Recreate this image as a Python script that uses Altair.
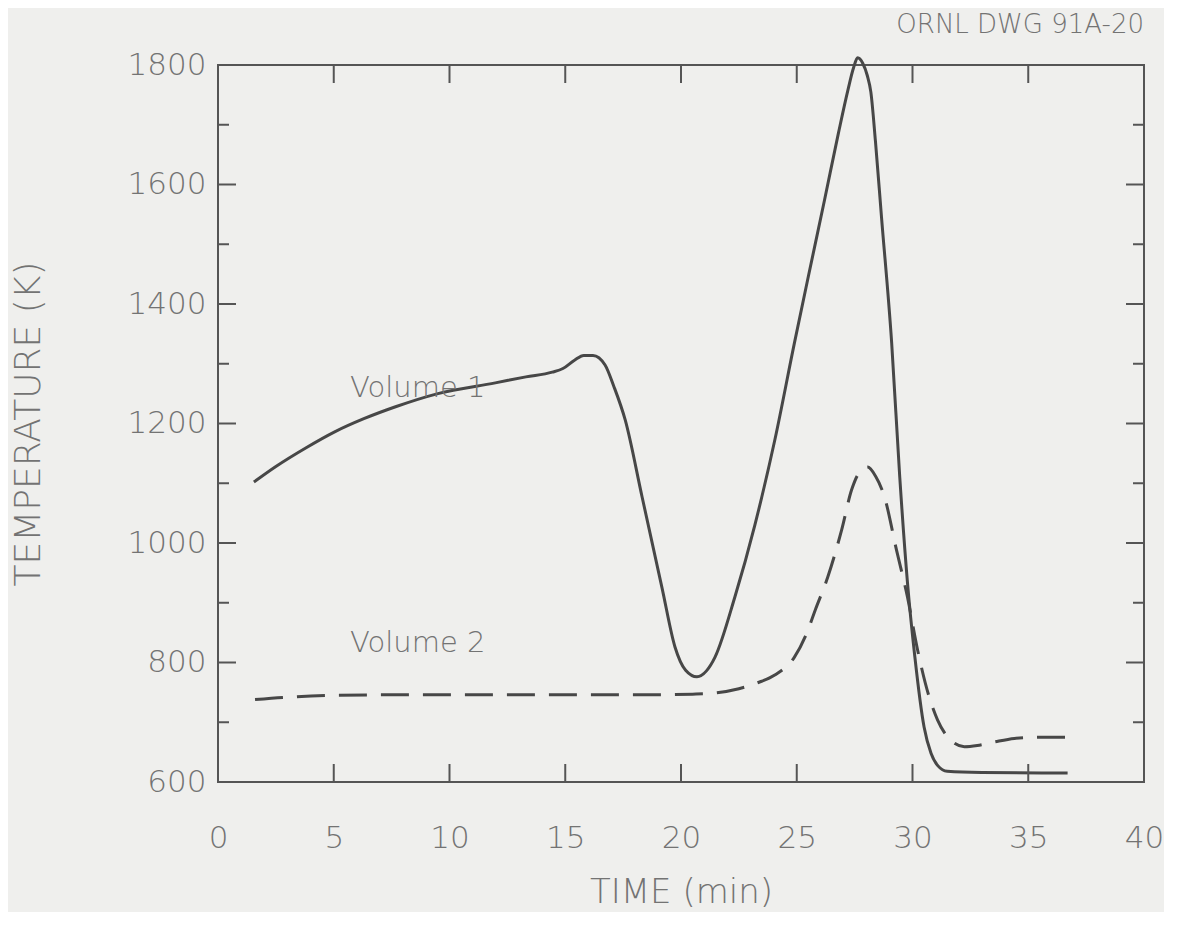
import altair as alt
import pandas as pd

# Volume 1 (solid) readings
v1_time = [1.55, 2.5, 3.79, 5.04, 6.3, 7.67, 9.5, 11.98, 13.3, 14.44, 14.9, 15.4, 15.8, 16.2,
           16.72, 17.1, 17.59, 18.32, 19.18, 19.74, 20.2, 20.69, 21.1, 21.47, 22.33, 23.19,
           24.05, 24.9, 25.5, 26.2, 26.8, 27.21, 27.45, 27.63, 27.85, 28.05, 28.2, 28.4, 28.66,
           29.1, 29.45, 29.78, 30.1, 30.5, 30.8, 31.1, 31.5, 33.0, 36.7]
v1_temp = [1102, 1128, 1159, 1186, 1208, 1228, 1250, 1268, 1278, 1286, 1292, 1306, 1314, 1314,
           1298, 1262, 1206, 1077, 925, 826, 787, 776, 786, 809, 910, 1030,
           1172, 1335, 1446, 1574, 1686, 1758, 1795, 1812, 1803, 1782, 1755, 1672, 1546,
           1335, 1110, 935, 810, 692, 648, 627, 618, 616, 615]

# Volume 2 (dashed) readings
v2_time = [1.6, 3.0, 5.0, 8.0, 12.0, 16.0, 19.0, 20.5, 21.47, 22.5, 23.3, 24.05, 24.9, 25.43,
           25.8, 26.34, 26.94, 27.37, 27.7, 28.06, 28.4, 28.79, 29.31, 29.78, 30.22, 30.7,
           31.08, 31.6, 32.24, 32.8, 33.53, 34.4, 35.5, 36.7]
v2_temp = [738, 742, 745, 746, 746, 746, 746, 747, 749, 756, 766, 779, 809, 849,
           888, 943, 1022, 1089, 1118, 1127, 1112, 1077, 988, 910, 821, 745,
           704, 672, 659, 661, 667, 673, 675, 675]

label_text = ["Volume 1", "Volume 2"]
label_time = [5.7, 5.7]
label_temp = [1259, 833]

x_ticks = [0, 5, 10, 15, 20, 25, 30, 35, 40]
y_ticks = [600, 800, 1000, 1200, 1400, 1600, 1800]
x_inner_ticks = [5, 10, 15, 20, 25, 30, 35]
y_major_inner = [800, 1000, 1200, 1400, 1600]
y_minor_inner = [700, 900, 1100, 1300, 1500, 1700]

W, H = 926, 717
XMIN, XMAX, YMIN, YMAX = 0, 40, 600, 1800
px_x = W / (XMAX - XMIN)
px_y = H / (YMAX - YMIN)
MAJOR, MINOR = 18, 11

FONT = "DejaVu Sans"
TXT = "#737373"
LINE = "#474747"

rows = []
for xv in x_inner_ticks:
    rows.append(dict(x=xv, x2=xv, y=YMIN, y2=YMIN + MAJOR / px_y))
    rows.append(dict(x=xv, x2=xv, y=YMAX, y2=YMAX - MAJOR / px_y))
for yv in y_major_inner:
    rows.append(dict(x=XMIN, x2=XMIN + MAJOR / px_x, y=yv, y2=yv))
    rows.append(dict(x=XMAX, x2=XMAX - MAJOR / px_x, y=yv, y2=yv))
for yv in y_minor_inner:
    rows.append(dict(x=XMIN, x2=XMIN + MINOR / px_x, y=yv, y2=yv))
    rows.append(dict(x=XMAX, x2=XMAX - MINOR / px_x, y=yv, y2=yv))
ticks = pd.DataFrame(rows)

v1 = pd.DataFrame({"t": v1_time, "T": v1_temp})
v2 = pd.DataFrame({"t": v2_time, "T": v2_temp})
labels = pd.DataFrame({"t": label_time, "T": label_temp, "text": label_text})

xscale = alt.Scale(domain=[XMIN, XMAX], nice=False, zero=False)
yscale = alt.Scale(domain=[YMIN, YMAX], nice=False, zero=False)

xaxis = alt.Axis(values=x_ticks, title="TIME  (min)", grid=False, ticks=False, tickSize=0,
                 domain=False, labelFont=FONT, labelFontSize=31, labelColor=TXT,
                 labelPadding=41, labelFontWeight=200, labelFlush=False, format="d",
                 titleFont=FONT, titleFontSize=34, titleColor=TXT, titleFontWeight=200,
                 titleX=W / 2, titleY=110, titleBaseline="middle", titleAlign="center")
yaxis = alt.Axis(values=y_ticks, title="TEMPERATURE  (K)", grid=False, ticks=False, tickSize=0,
                 domain=False, labelFont=FONT, labelFontSize=31, labelColor=TXT,
                 labelPadding=12, labelFontWeight=200, labelFlush=False, format="d",
                 titleFont=FONT, titleFontSize=36, titleColor=TXT, titleFontWeight=200,
                 titleX=-190, titleY=H / 2, titleBaseline="middle", titleAlign="center",
                 titleAngle=270)

base_x = alt.X("t:Q", scale=xscale, axis=xaxis)
base_y = alt.Y("T:Q", scale=yscale, axis=yaxis)

line1 = alt.Chart(v1).mark_line(color=LINE, strokeWidth=3, interpolate="monotone").encode(
    x=base_x, y=base_y)
line2 = alt.Chart(v2).mark_line(color=LINE, strokeWidth=3, interpolate="monotone",
                                strokeDash=[28, 14]).encode(x="t:Q", y="T:Q")
tick_layer = alt.Chart(ticks).mark_rule(color="#555555", strokeWidth=2).encode(
    x="x:Q", x2="x2:Q", y="y:Q", y2="y2:Q")
text_layer = alt.Chart(labels).mark_text(align="left", baseline="middle", font=FONT,
                                         fontSize=29, fontWeight=200, color=TXT).encode(
    x="t:Q", y="T:Q", text="text:N")

chart = alt.layer(line1, line2, tick_layer, text_layer).properties(
    width=W, height=H,
    autosize=alt.AutoSizeParams(type="none"),
    padding={"left": 210, "top": 57, "right": 20, "bottom": 130},
    background="#efefed",
    title=alt.TitleParams("ORNL DWG 91A-20", anchor="end", font=FONT, fontSize=26,
                          fontWeight=200, color=TXT, offset=11, frame="group"),
).configure_view(stroke="#555555", strokeWidth=2)

chart.save("out.html", embed_options={"renderer": "svg", "actions": False})
